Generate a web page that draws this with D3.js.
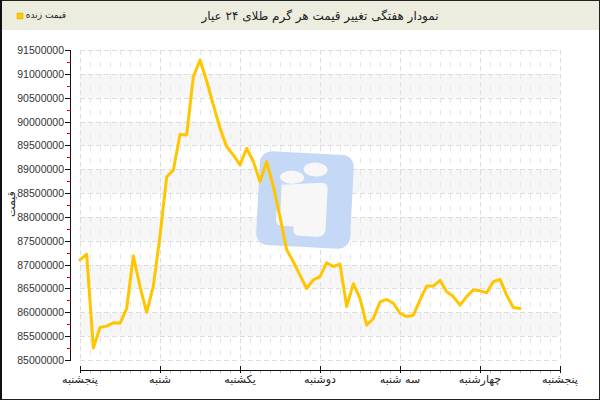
<!DOCTYPE html>
<html><head><meta charset="utf-8">
<script src="https://cdn.jsdelivr.net/npm/d3@7/dist/d3.min.js"></script>
<style>body{margin:0;background:#fff;overflow:hidden}</style>
</head><body>
<script>
const titleText = "نمودار هفتگی تغییر قیمت هر گرم طلای ۲۴ عیار";
const legendText = "قیمت زنده";
const yTitle = "قیمت";
const dayTicks = [0, 24, 48, 72, 96, 120, 144];
const dayLabels = ["پنجشنبه", "شنبه", "یکشنبه", "دوشنبه", "سه شنبه", "چهارشنبه", "پنجشنبه"];
const yTicks = [85000000, 85500000, 86000000, 86500000, 87000000, 87500000, 88000000, 88500000, 89000000, 89500000, 90000000, 90500000, 91000000, 91500000];
const hours = [0, 2, 4, 6, 8, 10, 12, 14, 16, 18, 20, 22, 24, 26, 28, 30, 32, 34, 36, 38, 40, 42, 44, 46, 48, 50, 52, 54, 56, 58, 60, 62, 64, 66, 68, 70, 72, 74, 76, 78, 80, 82, 84, 86, 88, 90, 92, 94, 96, 98, 100, 102, 104, 106, 108, 110, 112, 114, 116, 118, 120, 122, 124, 126, 128, 130, 132];
const prices = [87100000, 87220000, 85250000, 85680000, 85710000, 85780000, 85770000, 86080000, 87180000, 86540000,
  86000000, 86550000, 87600000, 88840000, 88980000, 89730000, 89720000, 90940000, 91290000, 90850000,
  90350000, 89860000, 89470000, 89300000, 89090000, 89440000, 89160000, 88740000, 89160000, 88640000,
  88000000, 87310000, 87060000, 86780000, 86500000, 86680000, 86750000, 87040000, 86960000, 87010000,
  86120000, 86600000, 86290000, 85730000, 85870000, 86220000, 86270000, 86190000, 85980000, 85910000,
  85940000, 86260000, 86550000, 86550000, 86670000, 86430000, 86330000, 86150000, 86330000, 86470000,
  86450000, 86410000, 86640000, 86690000, 86360000, 86100000, 86080000];

const W = 600, H = 400;
const svg = d3.select("body").append("svg").attr("width", W).attr("height", H);

// frame
svg.append("rect").attr("x", 0.5).attr("y", 0.5).attr("width", W - 1).attr("height", H - 1)
  .attr("fill", "#fff").attr("stroke", "#222");
svg.append("rect").attr("x", 1).attr("y", 1).attr("width", W - 2).attr("height", 29).attr("fill", "#ededdf");
svg.append("line").attr("x1", 1).attr("x2", 1).attr("y1", 0).attr("y2", H).attr("stroke", "#111").attr("stroke-width", 2);

svg.append("text").attr("x", 320).attr("y", 16).attr("text-anchor", "middle").attr("dominant-baseline", "central")
  .attr("font-family", "DejaVu Sans").attr("font-size", 12).attr("fill", "#222").text(titleText);
svg.append("rect").attr("x", 17).attr("y", 13).attr("width", 6).attr("height", 6).attr("fill", "#ffc600").attr("stroke", "#e0b000").attr("stroke-width", 0.5);
svg.append("text").attr("x", 66).attr("y", 15).attr("text-anchor", "end").attr("dominant-baseline", "central")
  .attr("font-family", "DejaVu Sans").attr("font-size", 9).attr("fill", "#222").text(legendText);

const x = d3.scaleLinear().domain([0, 144]).range([80, 560]);
const y = d3.scaleLinear().domain([85000000, 91500000]).range([360, 50]);

// bands
const bandStarts = yTicks.filter((v, i) => i % 2 === 1 && i < yTicks.length - 1);
svg.append("g").selectAll("rect").data(bandStarts).join("rect")
  .attr("x", x(0)).attr("width", x(144) - x(0))
  .attr("y", d => y(d + 500000)).attr("height", d => y(d) - y(d + 500000))
  .attr("fill", "#f6f6f6");

// minor vertical grid
const minorX = d3.range(0, 145, 3).filter(h => h % 24 !== 0);
svg.append("g").selectAll("line").data(minorX).join("line")
  .attr("x1", d => Math.round(x(d)) + 0.5).attr("x2", d => Math.round(x(d)) + 0.5)
  .attr("y1", 50).attr("y2", 360).attr("stroke", "#e6e6e6").attr("stroke-dasharray", "5,7");
// major vertical grid
svg.append("g").selectAll("line").data(dayTicks).join("line")
  .attr("x1", d => Math.round(x(d)) + 0.5).attr("x2", d => Math.round(x(d)) + 0.5)
  .attr("y1", 50).attr("y2", 360).attr("stroke", "#dddddd").attr("stroke-dasharray", "5,3");
// horizontal grid
svg.append("g").selectAll("line").data(yTicks).join("line")
  .attr("x1", 80).attr("x2", 560)
  .attr("y1", d => Math.round(y(d)) + 0.5).attr("y2", d => Math.round(y(d)) + 0.5)
  .attr("stroke", "#dddddd").attr("stroke-dasharray", "5,3");

// watermark logo
const logo = svg.append("g").attr("transform", "translate(305,200) rotate(3)");
logo.append("rect").attr("x", -47).attr("y", -47).attr("width", 94).attr("height", 94).attr("rx", 12)
  .attr("fill", "#c5d8f5");
logo.append("ellipse").attr("cx", 9).attr("cy", -31).attr("rx", 12).attr("ry", 7).attr("fill", "#f7f7f7");
logo.append("ellipse").attr("cx", -14).attr("cy", -22).attr("rx", 12).attr("ry", 6.5).attr("fill", "#f7f7f7");
logo.append("path").attr("d", "M-24,-14 L16,-18 Q22,-18 22,-12 L22,28 Q22,36 14,36 L-4,36 Q-10,36 -10,30 L-10,27 L-22,27 Q-28,27 -28,21 L-28,12 L-24,12 Z")
  .attr("fill", "#f7f7f7");

// y axis
const yAxis = svg.append("g");
yAxis.append("line").attr("x1", 70.5).attr("x2", 70.5).attr("y1", 50).attr("y2", 360).attr("stroke", "#111");
yAxis.selectAll(".maj").data(yTicks).join("line").attr("class", "maj")
  .attr("x1", 65).attr("x2", 71).attr("y1", d => Math.round(y(d)) + 0.5).attr("y2", d => Math.round(y(d)) + 0.5).attr("stroke", "#111");
yAxis.selectAll(".min").data(yTicks.slice(0, -1)).join("line").attr("class", "min")
  .attr("x1", 67).attr("x2", 71).attr("y1", d => Math.round(y(d + 250000)) + 0.5).attr("y2", d => Math.round(y(d + 250000)) + 0.5).attr("stroke", "#e00");
yAxis.selectAll("text").data(yTicks).join("text")
  .attr("x", 64).attr("y", d => y(d)).attr("text-anchor", "end").attr("dominant-baseline", "central")
  .attr("font-family", "Liberation Sans").attr("font-size", 10.5).attr("fill", "#333").text(d => d);
svg.append("text").attr("transform", "translate(11,204) rotate(-90)").attr("text-anchor", "middle").attr("dominant-baseline", "central")
  .attr("font-family", "DejaVu Sans").attr("font-size", 11).attr("fill", "#222").text(yTitle);

// x axis
const xAxis = svg.append("g");
xAxis.append("line").attr("x1", 80).attr("x2", 560).attr("y1", 370.5).attr("y2", 370.5).attr("stroke", "#111");
xAxis.selectAll(".mn").data(minorX).join("line").attr("class", "mn")
  .attr("x1", d => Math.round(x(d)) + 0.5).attr("x2", d => Math.round(x(d)) + 0.5).attr("y1", 371).attr("y2", 373).attr("stroke", "#bbb");
xAxis.selectAll(".mj").data(dayTicks).join("line").attr("class", "mj")
  .attr("x1", d => Math.round(x(d)) + 0.5).attr("x2", d => Math.round(x(d)) + 0.5).attr("y1", 366).attr("y2", 373).attr("stroke", "#111");
xAxis.selectAll("text").data(dayTicks).join("text")
  .attr("x", d => x(d)).attr("y", 379).attr("text-anchor", "middle").attr("dominant-baseline", "central")
  .attr("font-family", "DejaVu Sans").attr("font-size", 11).attr("fill", "#222").text((d, i) => dayLabels[i]);

// line
const line = d3.line().x((d, i) => x(hours[i])).y(d => y(d));
svg.append("path").datum(prices).attr("d", line).attr("fill", "none")
  .attr("stroke", "#ffc600").attr("stroke-width", 3).attr("stroke-linejoin", "round").attr("stroke-linecap", "round");
</script>
</body></html>
